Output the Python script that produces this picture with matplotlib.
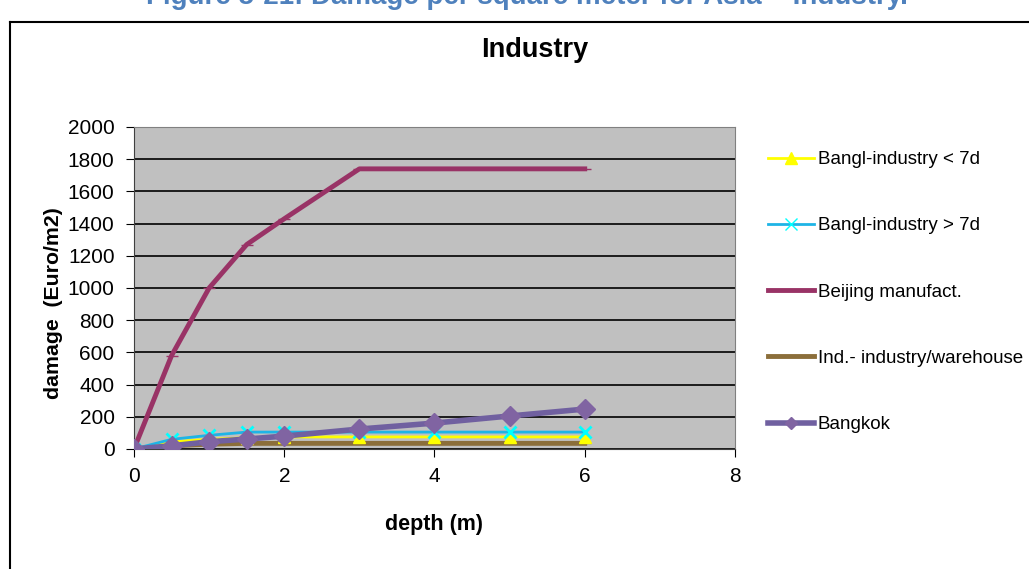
import matplotlib.pyplot as plt
from matplotlib.lines import Line2D

# --- data ---
depth = [0, 0.5, 1, 1.5, 2, 3, 4, 5, 6]
bangl_lt7 = [0, 45, 60, 70, 75, 75, 75, 75, 75]
bangl_gt7 = [0, 60, 85, 105, 105, 105, 105, 105, 105]
beijing = [0, 580, 1000, 1270, 1430, 1740, 1740, 1740, 1740]
ind_warehouse = [0, 20, 30, 35, 35, 35, 35, 35, 35]
bangkok = [0, 20, 45, 62, 80, 124, 161, 205, 248]

labels = ['Bangl-industry < 7d', 'Bangl-industry > 7d', 'Beijing manufact.',
          'Ind.- industry/warehouse', 'Bangkok']

plt.rcParams['font.family'] = ['Liberation Sans', 'DejaVu Sans']

fig = plt.figure(figsize=(10.29, 5.69), dpi=100)
W, H = 1029, 569

# cut-off caption at the very top
fig.text(527 / W, 1 - 4 / H, 'Figure 5-21: Damage per square meter for Asia \u2013 Industry.',
         ha='center', va='baseline', fontsize=20, fontweight='bold', color='#4F81BD')

# chart frame
fig.add_artist(Line2D([10 / W, 10 / W], [0, 1 - 22 / H], color='black', lw=1.5,
                      transform=fig.transFigure))
fig.add_artist(Line2D([10 / W, 1], [1 - 22 / H, 1 - 22 / H], color='black', lw=1.5,
                      transform=fig.transFigure))

ax = fig.add_axes([134 / W, 1 - 449 / H, 601 / W, 322 / H])
ax.set_facecolor('#C0C0C0')

ax.plot(depth, ind_warehouse, color='#8B6E3A', lw=3.5, marker='_', ms=8, mec='#8B6E3A', zorder=3)
ax.plot(depth, bangl_lt7, color='#FFFF00', lw=2, marker='^', ms=9, mfc='#FFFF00', mec='#FFFF00', zorder=4)
ax.plot(depth, bangl_gt7, color='#1EB4E6', lw=2, marker='x', ms=9, mec='#00FFFF', mew=2, zorder=4)
ax.plot(depth, beijing, color='#993366', lw=3.5, marker='_', ms=8, mec='#993366', zorder=5)
ax.plot(depth, bangkok, color='#7060A0', lw=4, marker='D', ms=10, mfc='#8064A2', mec='#8064A2', zorder=6)

ax.set_xlim(0, 8)
ax.set_ylim(0, 2000)
ax.set_xticks([0, 2, 4, 6, 8])
ax.set_yticks(range(0, 2001, 200))
ax.yaxis.grid(True, color='black', lw=1.2)
ax.set_axisbelow(True)
for s in ['top', 'right']:
    ax.spines[s].set_color('#808080')
ax.spines['left'].set_color('#404040')
ax.spines['bottom'].set_color('#404040')
ax.tick_params(labelsize=15, length=6, direction='out')
ax.tick_params(axis='y', pad=8)
ax.tick_params(axis='x', pad=7)

fig.text(535 / W, 1 - 57 / H, 'Industry', ha='center', va='baseline',
         fontsize=19.5, fontweight='bold')
ax.set_xlabel('depth (m)', fontsize=15.5, fontweight='bold', labelpad=20)
ax.set_ylabel('damage  (Euro/m2)', fontsize=15.3, fontweight='bold')
ax.yaxis.set_label_coords(-(134 - 63) / 601, (449 - 303) / 322)

handles = [
    Line2D([], [], color='#FFFF00', lw=2, marker='^', ms=8, mfc='#FFFF00', mec='#FFFF00'),
    Line2D([], [], color='#1EB4E6', lw=2, marker='x', ms=8, mec='#00FFFF'),
    Line2D([], [], color='#993366', lw=3.5),
    Line2D([], [], color='#8B6E3A', lw=3.5),
    Line2D([], [], color='#7060A0', lw=4, marker='D', ms=6, mfc='#8064A2', mec='#8064A2'),
]
fig.legend(handles, labels, loc='upper left', bbox_to_anchor=(768 / W, 1 - 151 / H),
           frameon=False, fontsize=13.5, labelspacing=2.62, handlelength=2.45,
           handletextpad=0.2, borderpad=0, borderaxespad=0)

plt.savefig('out.png', dpi=100)
